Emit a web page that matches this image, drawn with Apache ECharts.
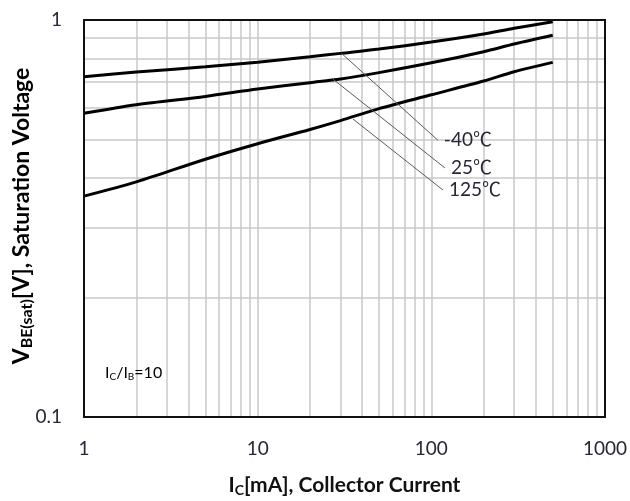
<!DOCTYPE html>
<html>
<head>
<meta charset="utf-8">
<script src="https://cdn.jsdelivr.net/npm/echarts@6/dist/echarts.min.js"></script>
<style>html,body{margin:0;padding:0;background:#fff}#c{width:630px;height:501px}</style>
</head>
<body>
<div id="c"></div>
<script>
// Collector current [mA]
const icPoints = [1, 2, 5, 10, 20, 30, 50, 100, 200, 300, 500];
// V_BE(sat) [V]
const vbeM40 = [0.720, 0.740, 0.762, 0.783, 0.808, 0.824, 0.845, 0.880, 0.922, 0.953, 0.990];
const vbe25  = [0.582, 0.612, 0.642, 0.670, 0.695, 0.710, 0.737, 0.780, 0.832, 0.870, 0.915];
const vbe125 = [0.360, 0.391, 0.446, 0.488, 0.530, 0.558, 0.598, 0.648, 0.702, 0.741, 0.782];
const seriesNames = ['-40℃', '25℃', '125℃'];
// leader lines (from curve to label), [x, y] in data units
const leaderM40 = [[30.4, 0.824], [109, 0.498]];
const leader25  = [[27.1, 0.710], [119.7, 0.424]];
const leader125 = [[35.4, 0.563], [116.7, 0.373]];
// grid lines
const xGridValues = [2,3,4,5,6,7,8,9,10,20,30,40,50,60,70,80,90,100,200,300,400,500,600,700,800,900];
const yGridValues = [0.2,0.3,0.4,0.5,0.6,0.7,0.8,0.9];
const xTickLabels = [1, 10, 100, 1000];
const yTickLabels = [0.1, 1];

const zip = (xs, ys) => xs.map((x, i) => [x, ys[i]]);
const font = "Lato, 'Noto Sans CJK JP', sans-serif";
const txtColor = '#262636';

const chart = echarts.init(document.getElementById('c'), null, {renderer: 'canvas'});

const gridLineSeries = {
  type: 'line', data: [], z: 1, silent: true,
  markLine: {
    silent: true, symbol: 'none', label: {show: false},
    lineStyle: {color: '#c8c8c8', width: 1.5, type: 'solid'},
    emphasis: {disabled: true},
    animation: false,
    data: xGridValues.map(v => ({xAxis: v})).concat(yGridValues.map(v => ({yAxis: v})))
  }
};

function curve(name, ys) {
  return {
    name, type: 'line', data: zip(icPoints, ys), smooth: 0.3, symbol: 'none', z: 5,
    lineStyle: {color: '#000', width: 3}
  };
}
function leader(name, pts) {
  return {
    type: 'line', data: pts, symbol: 'none', z: 6, silent: true,
    lineStyle: {color: '#5a5a5a', width: 1},
    endLabel: {show: true, formatter: name, fontFamily: font, fontSize: 19, color: txtColor, distance: 6}
  };
}

chart.setOption({
  animation: false,
  backgroundColor: '#fff',
  grid: {left: 84, right: 25, top: 20, bottom: 84, show: true, borderColor: '#111', borderWidth: 2, z: 10,
    containLabel: false, outerBoundsMode: 'none'},
  xAxis: {
    type: 'log', logBase: 10, min: xTickLabels[0], max: xTickLabels[xTickLabels.length - 1],
    axisLine: {show: false}, axisTick: {show: false}, splitLine: {show: false},
    axisLabel: {fontFamily: font, fontSize: 19, color: txtColor, margin: 22,
      formatter: v => xTickLabels.includes(v) ? String(v) : ''},
    name: '{b|I}{s|C}{b|[mA], Collector Current}',
    nameLocation: 'middle', nameGap: 56,
    nameTextStyle: {rich: {
      b: {fontFamily: font, fontSize: 21, fontWeight: 'bold', color: '#111'},
      s: {fontFamily: font, fontSize: 14, fontWeight: 'bold', color: '#111', padding: [10, 0, 0, 0]}
    }}
  },
  yAxis: {
    type: 'log', logBase: 10, min: yTickLabels[0], max: yTickLabels[1],
    axisLine: {show: false}, axisTick: {show: false}, splitLine: {show: false},
    axisLabel: {fontFamily: font, fontSize: 19, color: txtColor, margin: 22,
      formatter: v => String(v)}
  },
  graphic: [
    {type: 'rect', z: 3, shape: {x: 440, y: 118, width: 82, height: 99}, style: {fill: '#fff'}},
    {type: 'rect', z: 3, shape: {x: 98, y: 355, width: 74, height: 39}, style: {fill: '#fff'}},
    {type: 'text', z: 7, left: 105, top: 365, style: {
      text: '{a|I}{s|C}{a|/I}{s|B}{a|=10}',
      rich: {
        a: {fontFamily: font, fontSize: 16, color: txtColor},
        s: {fontFamily: font, fontSize: 10, color: txtColor, padding: [8, 0, 0, 0]}
      }
    }},
    {type: 'text', z: 7, x: 22, y: 216, rotation: Math.PI / 2, style: {
      text: '{b|V}{s|BE(sat)}{b|[V], Saturation Voltage}',
      align: 'center', verticalAlign: 'middle',
      rich: {
        b: {fontFamily: font, fontSize: 23, fontWeight: 'bold', color: '#111'},
        s: {fontFamily: font, fontSize: 16, fontWeight: 'bold', color: '#111', padding: [10, 0, 0, 0]}
      }
    }}
  ],
  series: [
    gridLineSeries,
    curve(seriesNames[0], vbeM40),
    curve(seriesNames[1], vbe25),
    curve(seriesNames[2], vbe125),
    leader(seriesNames[0], leaderM40),
    leader(seriesNames[1], leader25),
    leader(seriesNames[2], leader125)
  ]
});
</script>
</body>
</html>
